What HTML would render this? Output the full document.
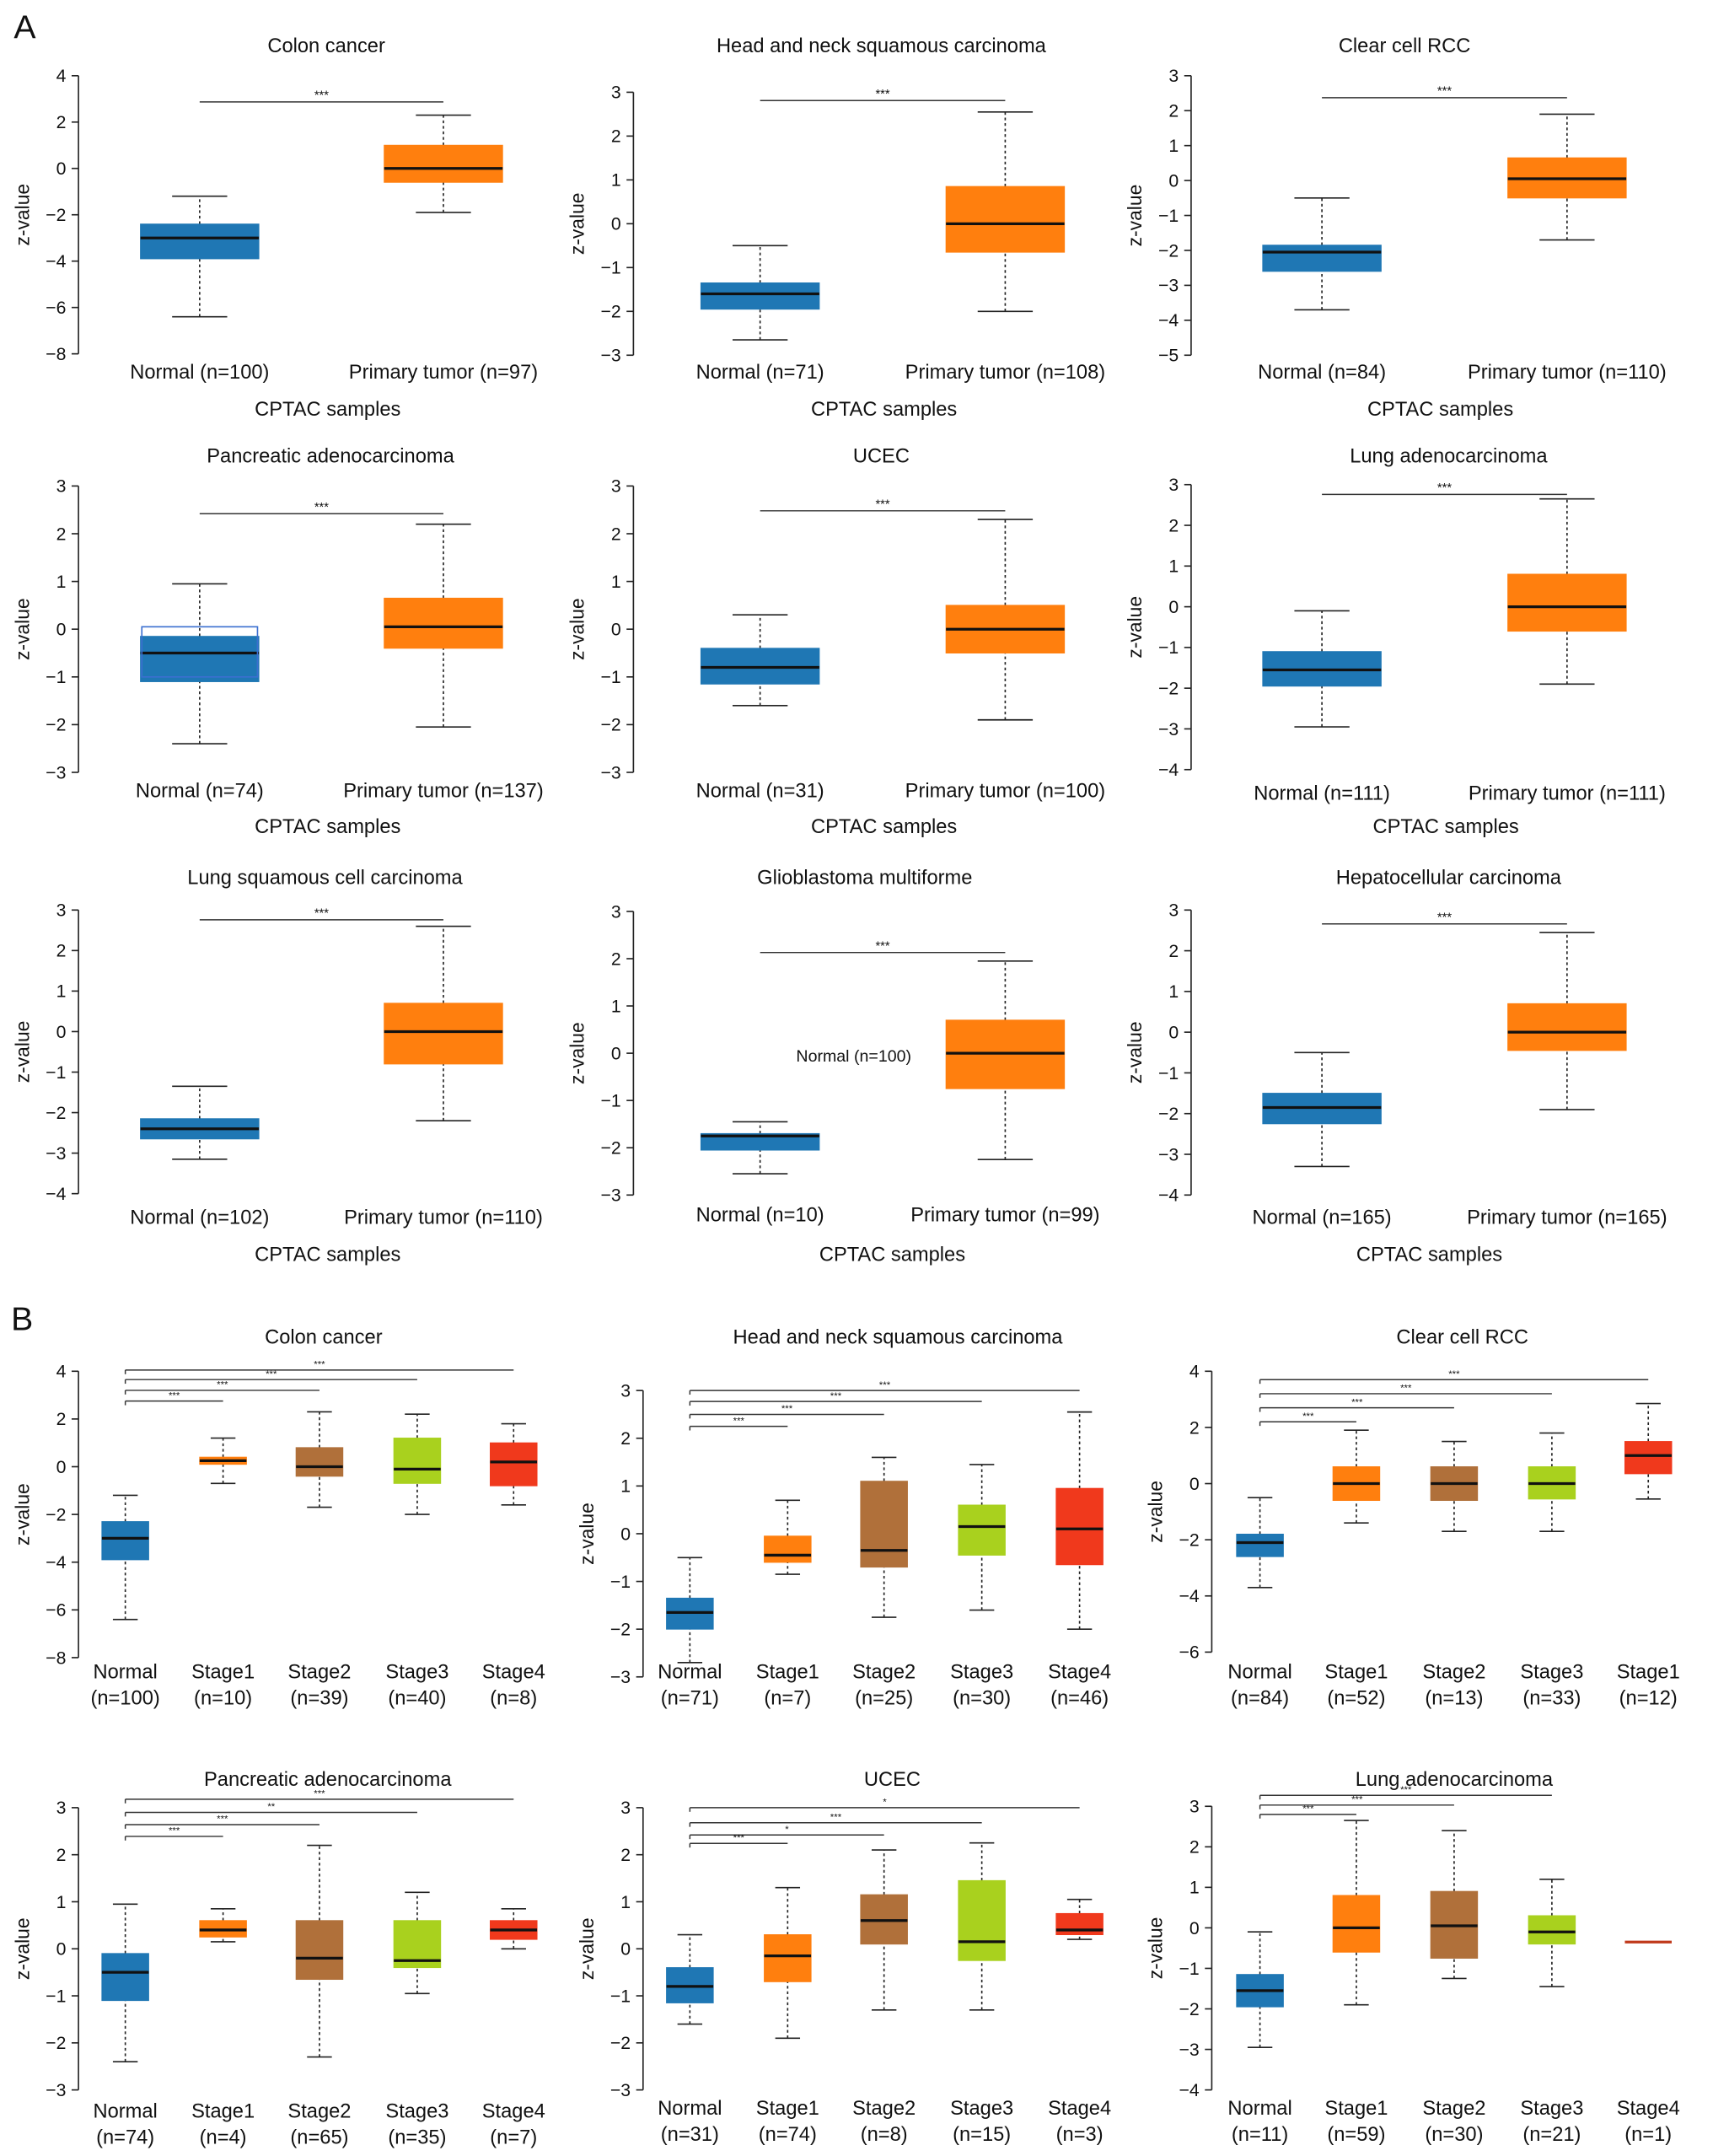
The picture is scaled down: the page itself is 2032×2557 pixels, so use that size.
<!DOCTYPE html>
<html><head><meta charset="utf-8"><style>
html,body{margin:0;padding:0;background:#fff}
svg{display:block}
text{font-family:"Liberation Sans",Arial,sans-serif;fill:#111}
</style></head><body>
<svg id="fig" width="2032" height="2557" viewBox="0 0 1244 1566" preserveAspectRatio="none" xmlns="http://www.w3.org/2000/svg">
<text x="10" y="28" font-size="24">A</text>
<text x="8" y="966" font-size="24">B</text>
</svg>
<script>
// ---- data ----
const titles=["Colon cancer","Head and neck squamous carcinoma","Clear cell RCC","Pancreatic adenocarcinoma","UCEC","Lung adenocarcinoma","Lung squamous cell carcinoma","Glioblastoma multiforme","Hepatocellular carcinoma","Colon cancer","Head and neck squamous carcinoma","Clear cell RCC","Pancreatic adenocarcinoma","UCEC","Lung adenocarcinoma"];
const categories=[
["Normal (n=100)","Primary tumor (n=97)"],["Normal (n=71)","Primary tumor (n=108)"],["Normal (n=84)","Primary tumor (n=110)"],
["Normal (n=74)","Primary tumor (n=137)"],["Normal (n=31)","Primary tumor (n=100)"],["Normal (n=111)","Primary tumor (n=111)"],
["Normal (n=102)","Primary tumor (n=110)"],["Normal (n=10)","Primary tumor (n=99)"],["Normal (n=165)","Primary tumor (n=165)"],
["Normal|(n=100)","Stage1|(n=10)","Stage2|(n=39)","Stage3|(n=40)","Stage4|(n=8)"],
["Normal|(n=71)","Stage1|(n=7)","Stage2|(n=25)","Stage3|(n=30)","Stage4|(n=46)"],
["Normal|(n=84)","Stage1|(n=52)","Stage2|(n=13)","Stage3|(n=33)","Stage1|(n=12)"],
["Normal|(n=74)","Stage1|(n=4)","Stage2|(n=65)","Stage3|(n=35)","Stage4|(n=7)"],
["Normal|(n=31)","Stage1|(n=74)","Stage2|(n=8)","Stage3|(n=15)","Stage4|(n=3)"],
["Normal|(n=11)","Stage1|(n=59)","Stage2|(n=30)","Stage3|(n=21)","Stage4|(n=1)"]];
const whLo=[[-6.4,-1.9],[-2.65,-2.0],[-3.7,-1.7],[-2.4,-2.05],[-1.6,-1.9],[-2.95,-1.9],[-3.15,-2.2],[-2.55,-2.25],[-3.3,-1.9],
[-6.4,-0.7,-1.7,-2.0,-1.6],[-2.7,-0.85,-1.75,-1.6,-2.0],[-3.7,-1.4,-1.7,-1.7,-0.55],[-2.4,0.15,-2.3,-0.95,0],[-1.6,-1.9,-1.3,-1.3,0.2],[-2.95,-1.9,-1.25,-1.45,-0.35]];
const q1=[[-3.9,-0.6],[-1.95,-0.65],[-2.6,-0.5],[-1.1,-0.4],[-1.15,-0.5],[-1.95,-0.6],[-2.65,-0.8],[-2.05,-0.75],[-2.25,-0.45],
[-3.9,0.1,-0.4,-0.7,-0.8],[-2.0,-0.6,-0.7,-0.45,-0.65],[-2.6,-0.6,-0.6,-0.55,0.35],[-1.1,0.25,-0.65,-0.4,0.2],[-1.15,-0.7,0.1,-0.25,0.3],[-1.95,-0.6,-0.75,-0.4,-0.35]];
const med=[[-3.0,0.0],[-1.6,0.0],[-2.05,0.05],[-0.5,0.05],[-0.8,0.0],[-1.55,0.0],[-2.4,0.0],[-1.75,0.0],[-1.85,0.0],
[-3.0,0.25,0.0,-0.1,0.2],[-1.65,-0.45,-0.35,0.15,0.1],[-2.1,0,0,0,1.0],[-0.5,0.4,-0.2,-0.25,0.4],[-0.8,-0.15,0.6,0.15,0.4],[-1.55,0.0,0.05,-0.1,-0.35]];
const q3=[[-2.4,1.0],[-1.35,0.85],[-1.85,0.65],[-0.15,0.65],[-0.4,0.5],[-1.1,0.8],[-2.15,0.7],[-1.7,0.7],[-1.5,0.7],
[-2.3,0.4,0.8,1.2,1.0],[-1.35,-0.05,1.1,0.6,0.95],[-1.8,0.6,0.6,0.6,1.5],[-0.1,0.6,0.6,0.6,0.6],[-0.4,0.3,1.15,1.45,0.75],[-1.15,0.8,0.9,0.3,-0.35]];
const whHi=[[-1.2,2.3],[-0.5,2.55],[-0.5,1.9],[0.95,2.2],[0.3,2.3],[-0.1,2.65],[-1.35,2.6],[-1.45,1.95],[-0.5,2.45],
[-1.2,1.2,2.3,2.2,1.8],[-0.5,0.7,1.6,1.45,2.55],[-0.5,1.9,1.5,1.8,2.85],[0.95,0.85,2.2,1.2,0.85],[0.3,1.3,2.1,2.25,1.05],[-0.1,2.65,2.4,1.2,-0.35]];
// significance bars: [targetIndex, yValue, label]
const sigBars=[[[1,2.87,"***"]],[[1,2.81,"***"]],[[1,2.37,"***"]],[[1,2.42,"***"]],[[1,2.48,"***"]],[[1,2.76,"***"]],[[1,2.76,"***"]],[[1,2.13,"***"]],[[1,2.66,"***"]],
[[4,4.05,"***"],[3,3.65,"***"],[2,3.2,"***"],[1,2.75,"***"]],
[[4,3.0,"***"],[3,2.77,"***"],[2,2.5,"***"],[1,2.25,"***"]],
[[4,3.7,"***"],[3,3.2,"***"],[2,2.7,"***"],[1,2.2,"***"]],
[[4,3.18,"***"],[3,2.9,"**"],[2,2.64,"***"],[1,2.39,"***"]],
[[4,3.0,"*"],[3,2.68,"***"],[2,2.42,"*"],[1,2.24,"***"]],
[[3,3.27,"***"],[2,3.03,"***"],[1,2.8,"***"]]];
const yMax=[4,3,3,3,3,3,3,3,3,4,3,4,3,3,3];
const yMin=[-8,-3,-5,-3,-3,-4,-4,-3,-4,-8,-3,-6,-3,-3,-4];
const yStep=[2,1,1,1,1,1,1,1,1,2,1,2,1,1,1];
// ---- layout ----
const L=[
{ax:57,top:55,bot:257,c:[145,322],ti:[237,33],xl:270,cs:[238,297]},
{ax:460,top:67,bot:258,c:[552,730],ti:[640,33],xl:270,cs:[642,297]},
{ax:865,top:55,bot:258,c:[960,1138],ti:[1020,33],xl:270,cs:[1046,297]},
{ax:57,top:353,bot:561,c:[145,322],ti:[240,331],xl:574,cs:[238,600]},
{ax:460,top:353,bot:561,c:[552,730],ti:[640,331],xl:574,cs:[642,600]},
{ax:865,top:352,bot:559,c:[960,1138],ti:[1052,331],xl:576,cs:[1050,600]},
{ax:57,top:661,bot:867,c:[145,322],ti:[236,637],xl:884,cs:[238,911]},
{ax:460,top:662,bot:868,c:[552,730],ti:[628,637],xl:882,cs:[648,911]},
{ax:865,top:661,bot:868,c:[960,1138],ti:[1052,637],xl:884,cs:[1038,911]},
{ax:57,top:996,bot:1204,c:[91,162,232,303,373],ti:[235,971],xl:1214},
{ax:467,top:1010,bot:1218,c:[501,572,642,713,784],ti:[652,971],xl:1214},
{ax:880,top:996,bot:1200,c:[915,985,1056,1127,1197],ti:[1062,971],xl:1214},
{ax:57,top:1313,bot:1518,c:[91,162,232,303,373],ti:[238,1292],xl:1533},
{ax:467,top:1313,bot:1518,c:[501,572,642,713,784],ti:[648,1292],xl:1531},
{ax:880,top:1312,bot:1518,c:[915,985,1056,1127,1197],ti:[1056,1292],xl:1531}];
const colors=["#1f77b4","#ff7f0e","#b0703a","#a9d11e","#f0391c"];
const NS="http://www.w3.org/2000/svg";const svg=document.getElementById('fig');
function mk(tag,at,parent,txt){const e=document.createElementNS(NS,tag);for(const k in at)e.setAttribute(k,at[k]);if(txt!==undefined)e.textContent=txt;(parent||svg).appendChild(e);return e;}
for(let p=0;p<15;p++){
 const g=L[p];const B=p>=9;
 const grp=mk('g',{});
 
 
 const y=v=>g.top+(yMax[p]-v)/(yMax[p]-yMin[p])*(g.bot-g.top);
 const t=mk('text',{x:g.ti[0],y:g.ti[1]+5,'font-size':14.5,'text-anchor':'middle'},grp,titles[p]);
 
 
 const axl=mk('line',{x1:g.ax,x2:g.ax,y1:g.top,y2:g.bot,stroke:'#222','stroke-width':1},grp);
 
 
 for(let v=yMin[p];v<=yMax[p]+1e-9;v+=yStep[p]){
  mk('line',{x1:g.ax-5,x2:g.ax,y1:y(v),y2:y(v),stroke:'#222','stroke-width':1},grp);
  const tl=mk('text',{x:g.ax-9,y:y(v)+4.5,'font-size':13,'text-anchor':'end'},grp,v<0?'\u2212'+(-v):String(v));
  
  
 }
 const yc=(g.top+g.bot)/2;
 const yt=mk('text',{x:g.ax-36,y:yc,'font-size':14,'text-anchor':'middle',transform:`rotate(-90 ${g.ax-36} ${yc})`},grp,'z-value');
 
 
 const hw=B?17:43, cap=B?9:20;
 for(let i=0;i<categories[p].length;i++){
  const cx=g.c[i];const col=colors[B?i:i];
  const bx=mk('g',{},grp);
  
  
  mk('line',{x1:cx,x2:cx,y1:y(whLo[p][i]),y2:y(q1[p][i]),stroke:'#222','stroke-dasharray':'2,2'},bx);
  mk('line',{x1:cx,x2:cx,y1:y(q3[p][i]),y2:y(whHi[p][i]),stroke:'#222','stroke-dasharray':'2,2'},bx);
  mk('line',{x1:cx-cap,x2:cx+cap,y1:y(whLo[p][i]),y2:y(whLo[p][i]),stroke:'#222'},bx);
  mk('line',{x1:cx-cap,x2:cx+cap,y1:y(whHi[p][i]),y2:y(whHi[p][i]),stroke:'#222'},bx);
  const h=Math.max(y(q1[p][i])-y(q3[p][i]),0);
  if(h>0.5)mk('rect',{x:cx-hw,y:y(q3[p][i]),width:hw*2,height:h,fill:col,stroke:col,'stroke-width':0.6},bx);
  mk('line',{x1:cx-hw,x2:cx+hw,y1:y(med[p][i]),y2:y(med[p][i]),stroke:h>0.5?'#111':'#c0391b','stroke-width':2},bx);
  const parts=categories[p][i].split('|');
  parts.forEach((s,k)=>{const tx=mk('text',{x:cx,y:g.xl+5+k*19,'font-size':14.5,'text-anchor':'middle'},grp,s);
   
   });
 }
 if(p==3){mk('rect',{x:g.c[0]-42,y:y(0.05),width:84,height:y(-1.0)-y(0.05),fill:'none',stroke:'#3b6fd0','stroke-width':1},grp);}
 if(g.cs){const cs=mk('text',{x:g.cs[0],y:g.cs[1]+5,'font-size':14.5,'text-anchor':'middle'},grp,'CPTAC samples');
  
  }
 if(p==7){const n=mk('text',{x:620,y:771,'font-size':12,'text-anchor':'middle'},grp,'Normal (n=100)');
  
  }
 sigBars[p].forEach(s=>{const x1=g.c[0],x2=g.c[s[0]],yy=y(s[1]);
  const sl=mk('line',{x1:x1,x2:x2,y1:yy,y2:yy,stroke:'#333','stroke-width':0.9},grp);
  
  
  if(B)mk('line',{x1:x1,x2:x1,y1:yy,y2:yy+3,stroke:'#333','stroke-width':0.9},grp);
  mk('text',{x:(x1+x2)/2,y:yy-2,'font-size':B?7:9,'text-anchor':'middle'},grp,s[2]);});
}
</script>
</body></html>
